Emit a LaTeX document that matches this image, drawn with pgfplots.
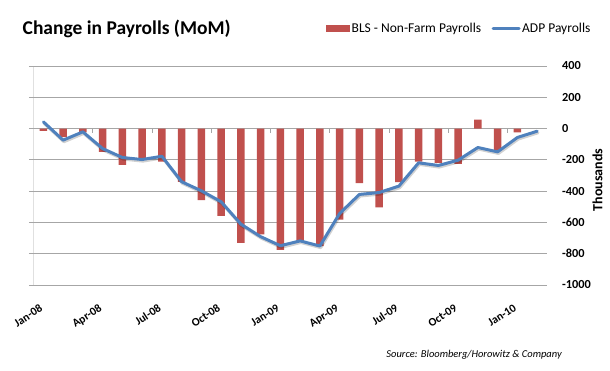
\documentclass[border=0pt]{standalone}
\usepackage{fontspec}
\setmainfont{Carlito}
\usepackage{pgfplots}
\usepackage{pgfplotstable}
\pgfplotsset{compat=1.18}
\definecolor{blsred}{HTML}{C0504D}
\definecolor{adpblue}{HTML}{4F81BD}
\definecolor{gridgray}{HTML}{A6A6A6}

\pgfplotstableread{
idx bls adp
0 -15 43
1 -55 -74
2 -25 -21
3 -149 -128
4 -232 -185
5 -200 -198
6 -212 -177
7 -340 -340
8 -458 -398
9 -558 -468
10 -730 -611
11 -677 -691
12 -775 -749
13 -720 -718
14 -751 -751
15 -582 -543
16 -348 -421
17 -504 -409
18 -343 -368
19 -212 -219
20 -220 -236
21 -226 -202
22 57 -121
23 -143 -149
24 -25 -57
25 nan -17
}\data

\begin{document}
\begin{tikzpicture}
\begin{axis}[
  at={(33.5pt,86pt)}, anchor=south west,
  width=513.5pt, height=219pt, scale only axis,
  xmin=-0.5, xmax=25.5, ymin=-1000, ymax=400,
  axis line style={draw=none},
  ytick={-1000,-800,...,400},
  yticklabels={-1000,-800,-600,-400,-200,0,200,400},
  ytick pos=left, yticklabel pos=right,
  tick align=outside,
  major tick length=4.5pt,
  y tick style={gridgray, line width=0.8pt},
  yticklabel style={anchor=west, xshift=7pt, font=\bfseries\fontsize{12.3}{14}\selectfont},
  ymajorgrids, grid style={gridgray, line width=0.8pt},
  xtick={0,3,...,24},
  xticklabels={Jan-08,Apr-08,Jul-08,Oct-08,Jan-09,Apr-09,Jul-09,Oct-09,Jan-10},
  xtick pos=left,
  x tick style={draw=none},
  xticklabel style={rotate=33, anchor=north east, yshift=-6pt, xshift=-8pt, font=\bfseries\fontsize{11.5}{13}\selectfont},
  legend style={draw=none, fill=none, at={(0.5638,1.169)}, anchor=west,
    font=\fontsize{13.5}{15}\selectfont, nodes={inner sep=1.5pt},
    /tikz/every even column/.append style={column sep=9pt}},
  legend columns=2, legend cell align=left,
]
\draw[gridgray, line width=0.8pt] (rel axis cs:0,0) -- (rel axis cs:0,1);
\pgfplotsinvokeforeach{2.5,5.5,8.5,11.5,14.5,17.5,20.5,23.5}{\draw[gridgray, line width=0.8pt] (axis cs:#1,0) -- (axis cs:#1,-28);}
\addplot[ybar, bar width=0.37, fill=blsred, draw=none,
  legend image code/.code={\fill[blsred] (0pt,-3.5pt) rectangle (24pt,3.5pt);}]
  table[x=idx, y=bls] {\data};
\addlegendentry{BLS - Non-Farm Payrolls}
\addplot[black, opacity=0.18, line width=3pt, line join=round, line cap=round, no markers, shift={(0.8pt,-1.6pt)}, forget plot]
  table[x=idx, y=adp] {\data};
\addplot[adpblue, line width=3pt, line join=round, line cap=round, no markers,
  legend image code/.code={\draw[adpblue, line width=3pt] (0pt,0pt) -- (26pt,0pt);}]
  table[x=idx, y=adp] {\data};
\addlegendentry{ADP Payrolls}
\end{axis}
\node[anchor=base west, inner sep=0, font=\bfseries\fontsize{19.5}{22}\selectfont] at (22.5pt,336pt) {Change in Payrolls (MoM)};
\node[rotate=90, inner sep=0, font=\bfseries\fontsize{14}{16}\selectfont] at (597.5pt,191pt) {Thousands};
\node[anchor=base east, inner sep=0, font=\itshape\fontsize{10.5}{13}\selectfont] at (562pt,13pt) {Source: Bloomberg/Horowitz \& Company};
\pgfresetboundingbox
\path[use as bounding box] (0,0) rectangle (610pt,371pt);
\end{tikzpicture}
\end{document}
